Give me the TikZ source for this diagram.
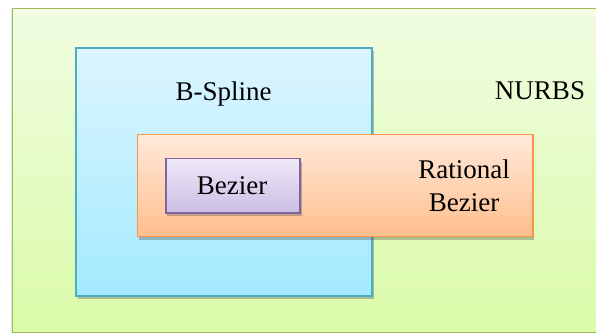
\documentclass[tikz,border=0pt]{standalone}
\usepackage{fontspec}
\setmainfont{Liberation Serif}
\usetikzlibrary{shadows}
\definecolor{nurbsline}{HTML}{9BBB59}
\definecolor{nurbstop}{HTML}{F1FCE2}
\definecolor{nurbsbot}{HTML}{DAFBA8}
\definecolor{bsline}{HTML}{4BACC6}
\definecolor{bstop}{HTML}{DDF5FF}
\definecolor{bsbot}{HTML}{A3EAFF}
\definecolor{rbline}{HTML}{F79646}
\definecolor{rbtop}{HTML}{FFE9DA}
\definecolor{rbbot}{HTML}{FFBE8D}
\definecolor{bzline}{HTML}{8064A2}
\definecolor{bztop}{HTML}{EFE8F8}
\definecolor{bzbot}{HTML}{CBBEE4}
\tikzset{
  setbox/.style={line width=1.6pt},
  shad/.style={drop shadow={shadow xshift=1.5pt, shadow yshift=-3pt, opacity=0.35, fill=black!70}},
  lbl/.style={inner sep=0pt, font=\fontsize{27}{33.5}\selectfont}
}
\begin{document}
\begin{tikzpicture}[x=1pt,y=1pt]
\useasboundingbox (0,0) rectangle (596,334);
\draw[setbox, draw=nurbsline, top color=nurbstop, bottom color=nurbsbot,
  drop shadow={shadow xshift=-2pt, shadow yshift=-1pt, opacity=0.2}]
  (12.5,325.5) rectangle (602,1.5);
\draw[setbox, shad, draw=bsline, top color=bstop, bottom color=bsbot]
  (76,286) rectangle (372,38);
\draw[setbox, shad, draw=rbline, top color=rbtop, bottom color=rbbot]
  (137.3,199.3) rectangle (532.7,97.3);
\draw[setbox, shad, draw=bzline, top color=bztop, bottom color=bzbot]
  (165.7,175.3) rectangle (300,120.7);
\node[lbl, anchor=base] (bspline) at (223.5,233) {B-Spline};
\node[lbl, anchor=base] (nurbs) at (540,234) {NURBS};
\node[lbl, anchor=base] (bezier) at (232,139) {Bezier};
\node[lbl, anchor=base, align=center] (rational) at (464,122.3) {Rational\\Bezier};
\end{tikzpicture}
\end{document}
